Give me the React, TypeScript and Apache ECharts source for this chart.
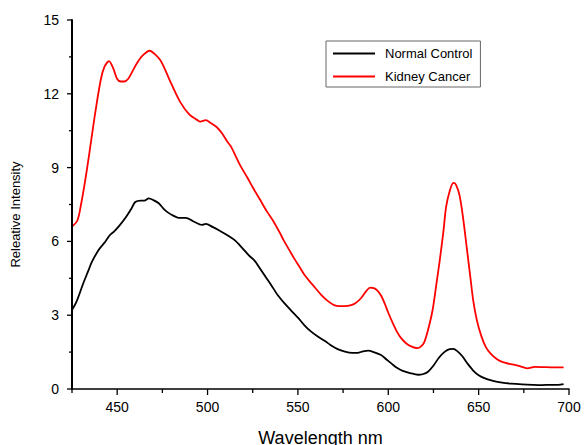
import React, { useEffect, useRef } from "react";
import * as echarts from "echarts";

const redWavelengths = [
  425, 428, 430, 433, 436, 438, 441, 443, 445.5, 448, 450, 452, 454, 456, 458, 461, 464, 468, 471, 474,
  477, 480, 485, 490, 494, 496, 499, 502, 505, 508, 511, 513, 518, 522, 525, 529, 533, 536, 540, 542,
  546, 548, 551, 554, 558, 563, 567, 570, 573, 576, 579, 582, 585, 588, 590, 592, 594, 596, 598, 600,
  603, 605, 607, 610, 613, 616, 618, 620, 622, 624.5, 626.5, 628.5, 630.5, 632, 634, 636, 637.5, 639.5,
  641.5, 643.5, 645.5, 647, 649, 651.5, 654, 656.5, 660, 663, 667, 670, 674, 677, 681, 686, 690, 697,
];
const kidneyCancer = [
  6.6, 6.85, 7.5, 8.8, 10.3, 11.3, 12.6, 13.1, 13.33, 13.0, 12.6, 12.5, 12.5, 12.6, 12.85, 13.25, 13.55, 13.75, 13.6, 13.35,
  12.9, 12.4, 11.65, 11.15, 10.95, 10.87, 10.93, 10.8, 10.65, 10.4, 10.05, 9.85, 9.1, 8.6, 8.2, 7.7, 7.2, 6.87, 6.35, 6.06,
  5.55, 5.3, 4.95, 4.6, 4.25, 3.82, 3.55, 3.41, 3.37, 3.37, 3.4, 3.5, 3.7, 4.0, 4.12, 4.1, 4.0, 3.8, 3.48, 3.1,
  2.6, 2.3, 2.08, 1.85, 1.72, 1.66, 1.72, 1.92, 2.4, 3.2, 4.2, 5.24, 6.4, 7.4, 8.05, 8.38, 8.3, 7.85,
  6.9, 5.7, 4.5, 3.6, 2.8, 2.15, 1.7, 1.45, 1.22, 1.1, 1.02, 0.98, 0.9, 0.84, 0.9, 0.89, 0.88, 0.88,
];

const blackWavelengths = [
  425, 427.5, 431, 434, 436, 440, 443, 446, 448.5, 451, 455, 458, 460, 463, 465, 467.5, 470, 473, 476, 478,
  481, 484, 488, 492, 497, 499, 503, 507, 511, 515, 519, 523, 526, 529, 532, 535, 539, 543, 546, 550,
  553.5, 557, 561, 565, 568, 572, 576, 580, 583, 586, 589, 592, 596, 599, 602, 605, 608, 612, 616.5, 619,
  622, 625, 628, 631, 634, 636, 638, 641, 644, 647, 650, 653.5, 658, 663, 668, 674, 680, 685, 690, 694, 697,
];
const normalControl = [
  3.21, 3.55, 4.25, 4.8, 5.17, 5.68, 5.95, 6.26, 6.42, 6.62, 7.0, 7.35, 7.6, 7.66, 7.66, 7.75, 7.68, 7.55, 7.3, 7.18,
  7.05, 6.96, 6.96, 6.82, 6.67, 6.71, 6.58, 6.42, 6.25, 6.05, 5.75, 5.42, 5.22, 4.9, 4.57, 4.25, 3.8, 3.45, 3.21, 2.9,
  2.6, 2.35, 2.13, 1.95, 1.79, 1.62, 1.52, 1.47, 1.47, 1.53, 1.56, 1.5, 1.38, 1.2, 1.02, 0.85, 0.74, 0.65, 0.58, 0.6,
  0.7, 0.95, 1.27, 1.5, 1.62, 1.63, 1.55, 1.33, 1.02, 0.75, 0.56, 0.43, 0.33, 0.26, 0.22, 0.19, 0.17, 0.16, 0.17, 0.17, 0.2,
];

const xMajorTicks = [450, 500, 550, 600, 650, 700];
const xMinorTicks = [425, 475, 525, 575, 625, 675];
const yMajorTicks = [0, 3, 6, 9, 12, 15];
const yMinorTicks = [1.5, 4.5, 7.5, 10.5, 13.5];

const X_MIN = 425;
const X_MAX = 700;
const Y_MIN = 0;
const Y_MAX = 15;

const FONT = "'Liberation Sans', Arial, sans-serif";

export default function App() {
  const ref = useRef<HTMLDivElement>(null);
  useEffect(() => {
    if (!ref.current) return;
    const chart = echarts.init(ref.current, null, { renderer: "svg" });
    const zip = (xs: number[], ys: number[]) => xs.map((x, i) => [x, ys[i]]);
    chart.setOption({
      animation: false,
      backgroundColor: "#fff",
      grid: { left: 72, right: 16, top: 20, bottom: 56, outerBoundsMode: "none", containLabel: false },
      legend: {
        orient: "vertical",
        left: 326,
        top: 41,
        width: 150,
        padding: [6, 8, 4, 7],
        itemGap: 10,
        borderColor: "#666",
        borderWidth: 1,
        icon: "rect",
        itemWidth: 42,
        itemHeight: 2,
        textStyle: { fontFamily: FONT, fontSize: 13, color: "#000", padding: [0, 0, 0, 5] },
        data: ["Normal Control", "Kidney Cancer"],
      },
      xAxis: {
        type: "value",
        min: X_MIN,
        max: X_MAX,
        interval: 25,
        name: "Wavelength nm",
        nameLocation: "middle",
        nameGap: 40,
        nameTextStyle: { fontFamily: FONT, fontSize: 18, color: "#000" },
        axisLine: { show: true, onZero: false, lineStyle: { color: "#000", width: 1.5 } },
        axisTick: { show: false },
        axisLabel: {
          fontFamily: FONT,
          fontSize: 14,
          color: "#000",
          margin: 11,
          formatter: (v: number) => (v % 50 === 0 ? String(v) : ""),
        },
        splitLine: { show: false },
      },
      yAxis: {
        type: "value",
        min: Y_MIN,
        max: Y_MAX,
        interval: 3,
        name: "Releative Intensity",
        nameLocation: "middle",
        nameGap: 50,
        nameTextStyle: { fontFamily: FONT, fontSize: 13, color: "#000", padding: [0, 0, 0, -20] },
        axisLine: { show: true, onZero: false, lineStyle: { color: "#000", width: 2 } },
        axisTick: { show: false },
        axisLabel: { fontFamily: FONT, fontSize: 14, color: "#000", margin: 13 },
        splitLine: { show: false },
      },
      series: [
        {
          name: "Normal Control",
          type: "line",
          data: zip(blackWavelengths, normalControl),
          showSymbol: false,
          smooth: 0.3,
          color: "#000",
          lineStyle: { color: "#000", width: 1.8 },
        },
        {
          name: "Kidney Cancer",
          type: "line",
          data: zip(redWavelengths, kidneyCancer),
          showSymbol: false,
          smooth: 0.3,
          color: "#ff0000",
          lineStyle: { color: "#ff0000", width: 1.8 },
        },
        {
          name: "frame",
          type: "line",
          data: [[X_MIN, Y_MAX], [X_MIN, Y_MIN]],
          showSymbol: false,
          clip: false,
          silent: true,
          z: 5,
          lineStyle: { color: "#000", width: 2 },
          tooltip: { show: false },
        },
      ],
    });

    // Tick marks, positioned through the chart's own scales.
    const px = (v: number) => Number(chart.convertToPixel({ xAxisIndex: 0 }, v));
    const py = (v: number) => Number(chart.convertToPixel({ yAxisIndex: 0 }, v));
    const x0 = px(X_MIN);
    const y0 = py(Y_MIN);
    const stroke = { stroke: "#000", lineWidth: 1.3, fill: "none" };
    const els: any[] = [];
    yMajorTicks.forEach((v) => {
      const y = py(v);
      els.push({ type: "polyline", shape: { points: [[x0 - 5, y], [x0, y]] }, style: stroke });
    });
    yMinorTicks.forEach((v) => {
      const y = py(v);
      els.push({ type: "polyline", shape: { points: [[x0 - 3, y], [x0, y]] }, style: stroke });
    });
    xMajorTicks.forEach((v) => {
      const x = px(v);
      els.push({ type: "polyline", shape: { points: [[x, y0], [x, y0 + 6]] }, style: stroke });
    });
    xMinorTicks.forEach((v) => {
      const x = px(v);
      els.push({ type: "polyline", shape: { points: [[x, y0], [x, y0 + 4]] }, style: stroke });
    });
    chart.setOption({ graphic: els.map((e) => ({ ...e, silent: true, z: 10 })) });

    return () => chart.dispose();
  }, []);
  return (
    <div
      ref={ref}
      style={{ position: "fixed", left: 0, top: 0, width: 585, height: 445, background: "#fff" }}
    />
  );
}
